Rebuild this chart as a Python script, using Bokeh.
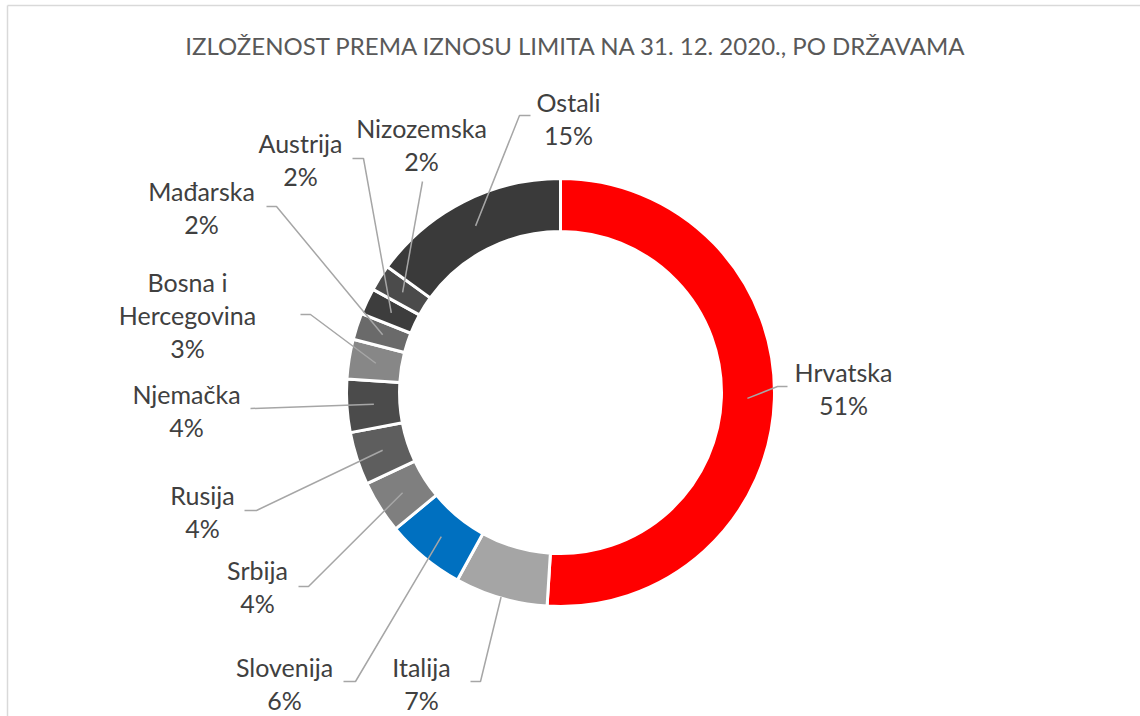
import math
from bokeh.plotting import figure
from bokeh.models import Range1d, ColumnDataSource
from bokeh.core.properties import value
from bokeh.embed import file_html
from bokeh.resources import INLINE

# ---- data ----
title_text = "IZLOŽENOST PREMA IZNOSU LIMITA NA 31. 12. 2020., PO DRŽAVAMA"
countries = ["Hrvatska", "Italija", "Slovenija", "Srbija", "Rusija", "Njemačka",
             "Bosna i\nHercegovina", "Mađarska", "Austrija", "Nizozemska", "Ostali"]
shares = [51, 7, 6, 4, 4, 4, 3, 2, 2, 2, 15]
colors = ["#FF0000", "#A5A5A5", "#0070C0", "#7F7F7F", "#5E5E5E", "#4B4B4B",
          "#878787", "#6A6A6A", "#3D3D3D", "#4B4B4B", "#3A3A3A"]

# ---- layout (screen pixel coordinates of the reference) ----
W, H = 1140, 716
CX, CY = 560, 392
R_IN, R_OUT = 161, 214
R_MID = 187
label_pos = [(843, 371), (421, 666), (284, 666), (257, 569), (202, 494), (186, 393),
             (187, 281), (201, 190), (300, 142), (421, 127), (568, 101)]
leader_anchor = [[(787, 386), (777, 386)], [(470, 681), (480, 681)], [(343, 681), (355, 681)],
                 [(298, 586), (308, 586)], [(244, 510), (256, 510)], [(250, 408)],
                 [(300, 314), (310, 314)], [(266, 206), (276, 206)], [(352, 158), (363, 158)],
                 [(422, 181)], [(530, 115), (519, 115)]]
leader_r = [R_MID, 213, R_MID, R_MID, R_MID, R_MID, R_MID, R_MID, R_MID, R_MID, R_MID]
LINE_H = 33

total = float(sum(shares))
starts, ends, mids = [], [], []
cum = 0.0
for v in shares:
    f0 = cum / total
    cum += v
    f1 = cum / total
    starts.append(math.pi / 2 - 2 * math.pi * f0)
    ends.append(math.pi / 2 - 2 * math.pi * f1)
    mids.append(math.pi / 2 - 2 * math.pi * (f0 + f1) / 2)

p = figure(width=W, height=H, x_range=Range1d(0, W), y_range=Range1d(0, H),
           toolbar_location=None, output_backend="svg", min_border=0)
p.axis.visible = False
p.grid.visible = False
p.outline_line_color = None
p.background_fill_color = "white"
p.border_fill_color = "white"

# border (top & left visible in the reference)
p.segment(x0=[7, 7], y0=[H - 5, H - 5], x1=[W, 7], y1=[H - 5, 0],
          line_color="#D9D9D9", line_width=1.5)

src = ColumnDataSource(dict(start=starts, end=ends, color=colors))
p.annular_wedge(x=CX, y=H - CY, inner_radius=R_IN, outer_radius=R_OUT,
                start_angle="start", end_angle="end", direction="clock",
                fill_color="color", line_color="white", line_width=3, source=src)

# leader lines
xs, ys = [], []
for i, a in enumerate(mids):
    px = CX + leader_r[i] * math.cos(a)
    py = (H - CY) + leader_r[i] * math.sin(a)
    pts = [(x, H - y) for (x, y) in leader_anchor[i]] + [(px, py)]
    xs.append([q[0] for q in pts])
    ys.append([q[1] for q in pts])
p.multi_line(xs=xs, ys=ys, line_color="#A6A6A6", line_width=1.5)

# labels
tx, ty, tt = [], [], []
for i, name in enumerate(countries):
    lines = name.split("\n") + [f"{shares[i]}%"]
    lx, ly = label_pos[i]
    for k, ln in enumerate(lines):
        tx.append(lx)
        ty.append(H - (ly + k * LINE_H))
        tt.append(ln)
p.text(x=tx, y=ty, text=tt, text_align="center", text_baseline="middle",
       text_font=value("Lato"), text_font_size="25px", text_color="#404040")

# title
p.text(x=[576], y=[H - 45], text=[title_text], text_align="center", text_baseline="middle",
       text_font=value("Lato"), text_font_size="24px", text_color="#595959")

open("out.html", "w").write(file_html(p, INLINE))
